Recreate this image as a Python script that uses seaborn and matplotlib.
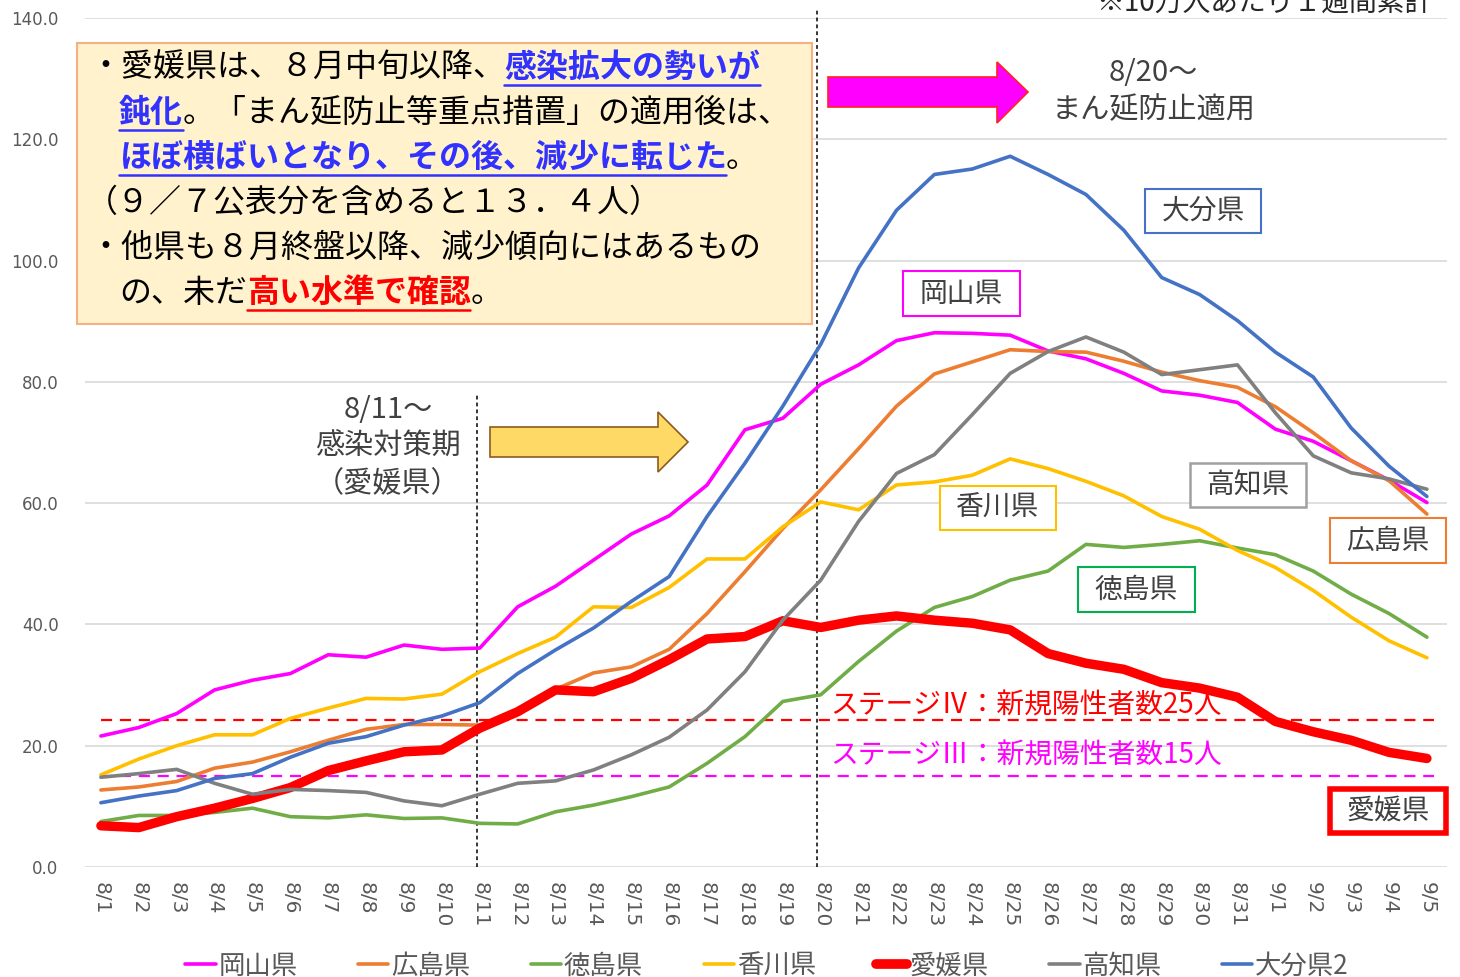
import matplotlib
matplotlib.use("Agg")
import matplotlib.pyplot as plt
import seaborn as sns
import numpy as np
import pandas as pd
from matplotlib.patches import Rectangle, Polygon
from matplotlib.lines import Line2D
from matplotlib.transforms import IdentityTransform

# ---------------- data ----------------
dates = ["8/1", "8/2", "8/3", "8/4", "8/5", "8/6", "8/7", "8/8", "8/9", "8/10",
         "8/11", "8/12", "8/13", "8/14", "8/15", "8/16", "8/17", "8/18", "8/19", "8/20",
         "8/21", "8/22", "8/23", "8/24", "8/25", "8/26", "8/27", "8/28", "8/29", "8/30",
         "8/31", "9/1", "9/2", "9/3", "9/4", "9/5"]

okayama = [21.6, 23.0, 25.3, 29.2, 30.8, 31.9, 35.0, 34.6, 36.6, 35.9, 36.1,
           42.9, 46.3, 50.6, 54.9, 57.9, 63.0, 72.1, 74.0, 79.6,
           82.8, 86.8, 88.1, 88.0, 87.7, 85.1, 83.8, 81.4, 78.5, 77.8, 76.6,
           72.2, 70.2, 67.0, 63.8, 60.1]
hiroshima = [12.7, 13.2, 14.1, 16.3, 17.3, 19.0, 20.9, 22.7, 23.5, 23.5, 23.4,
             25.6, 29.3, 32.0, 33.0, 35.9, 41.8, 48.7, 55.8, 62.2,
             69.0, 76.0, 81.3, 83.3, 85.3, 85.0, 84.9, 83.4, 81.6, 80.2, 79.1,
             75.9, 71.6, 67.0, 63.7, 58.2]
tokushima = [7.5, 8.5, 8.5, 9.0, 9.7, 8.3, 8.1, 8.6, 8.0, 8.1, 7.2,
             7.1, 9.1, 10.2, 11.6, 13.2, 17.1, 21.5, 27.3, 28.4,
             33.9, 38.9, 42.8, 44.6, 47.3, 48.8, 53.2, 52.7, 53.2, 53.8, 52.6,
             51.5, 48.8, 45.0, 41.8, 37.9]
kagawa = [15.2, 17.8, 20.0, 21.8, 21.8, 24.5, 26.2, 27.8, 27.7, 28.5, 32.2,
          35.2, 37.9, 42.9, 42.8, 46.1, 50.8, 50.8, 56.1, 60.2,
          58.9, 63.0, 63.5, 64.6, 67.3, 65.7, 63.6, 61.2, 57.8, 55.7, 52.2,
          49.4, 45.6, 41.2, 37.3, 34.5]
ehime = [6.8, 6.5, 8.3, 9.7, 11.3, 13.1, 15.9, 17.5, 19.0, 19.3, 22.9,
         25.6, 29.2, 28.9, 31.1, 34.2, 37.6, 38.0, 40.6, 39.5,
         40.7, 41.4, 40.7, 40.2, 39.1, 35.2, 33.6, 32.6, 30.4, 29.5, 28.0,
         24.0, 22.3, 20.9, 18.9, 17.9]
kochi = [14.8, 15.4, 16.1, 13.8, 12.0, 12.8, 12.6, 12.3, 10.9, 10.1, 12.0,
         13.8, 14.2, 16.0, 18.5, 21.4, 25.9, 32.2, 40.7, 47.3,
         57.0, 64.9, 68.0, 74.6, 81.4, 85.0, 87.4, 84.9, 81.2, 82.0, 82.8,
         74.9, 67.8, 65.0, 64.0, 62.3]
oita = [10.6, 11.7, 12.6, 14.6, 15.4, 18.1, 20.4, 21.5, 23.4, 24.9, 27.1,
        31.9, 35.8, 39.4, 43.8, 47.9, 57.8, 66.6, 76.0, 86.2,
        98.8, 108.3, 114.2, 115.1, 117.2, 114.2, 110.9, 105.0, 97.2, 94.4, 90.1,
        84.9, 80.8, 72.4, 66.1, 61.1]

series_names = ["岡山県", "広島県", "徳島県", "香川県", "愛媛県", "高知県", "大分県2"]
series_values = [okayama, hiroshima, tokushima, kagawa, ehime, kochi, oita]

stage4_level = 24.2
stage3_level = 15.0
yticks = [0, 20, 40, 60, 80, 100, 120, 140]

# ---------------- style ----------------
colors = ["#FF00FF", "#ED7D31", "#70AD47", "#FFC000", "#FF0000", "#808080", "#4472C4"]
widths = [2.6, 2.6, 2.6, 2.6, 6.8, 2.6, 2.6]

sns.set_theme(style="white")
plt.rcParams['font.family'] = ['Noto Sans CJK JP', 'DejaVu Sans']

W, H = 1460, 977
fig = plt.figure(figsize=(W / 100, H / 100), dpi=100)
ax = fig.add_axes([85 / W, 1 - 867 / H, (1447 - 85) / W, (867 - 18) / H])

x = np.arange(len(dates))
df = pd.DataFrame({"idx": x})
for name, vals in zip(series_names, series_values):
    df[name] = vals

handles = []
for i, (name, c, lw) in enumerate(zip(series_names, colors, widths)):
    sns.lineplot(data=df, x="idx", y=name, ax=ax, color=c, linewidth=lw,
                 legend=False, zorder=3 + i, solid_capstyle="round")
    handles.append(Line2D([0], [0], color=c, lw=lw if lw < 5 else 7))

# stage lines
ax.plot([0, 35.2], [stage4_level, stage4_level], color="#FF0000", lw=1.6,
        linestyle=(0, (5, 3.5)), zorder=2)
ax.plot([0, 35.2], [stage3_level, stage3_level], color="#FF00FF", lw=1.6,
        linestyle=(0, (5, 3.5)), zorder=2)

# vertical dotted lines
ax.plot([9.92, 9.92], [0, 78.2], color="black", lw=1.1, linestyle=(0, (2.5, 2)), zorder=2)
ax.plot([18.9, 18.9], [0, 141.3], color="black", lw=1.1, linestyle=(0, (2.5, 2)),
        zorder=2, clip_on=False)

ax.set_xlim(-0.42, 35.53)
ax.set_ylim(0, 140)
ax.set_xticks(x)
ax.set_xticklabels(dates, rotation=-90, fontsize=14.5, color="#595959",
                   family="DejaVu Sans", va="top", ha="center")
ax.set_yticks(yticks)
ax.set_yticklabels(["%.1f" % v for v in yticks], fontsize=12, color="#595959",
                   family="DejaVu Sans")
ax.tick_params(axis="x", length=0, pad=11)
ax.tick_params(axis="y", length=0, pad=19)
ax.yaxis.grid(True, color="#D9D9D9", lw=1.2)
ax.xaxis.grid(False)
for s in ax.spines.values():
    s.set_visible(False)
ax.set_xlabel("")
ax.set_ylabel("")

# legend
fig.legend(handles, series_names, loc="center", bbox_to_anchor=(767 / W, 1 - 966 / H),
           ncol=7, frameon=False, fontsize=19, handlelength=1.15, handletextpad=0.1,
           columnspacing=2.3, labelcolor="#595959")

# ---------------- annotations (figure pixel coordinates, y from top) ----------------
def fx(px):
    return px / W

def fy(py):
    return 1 - py / H

def rect(x0, y0, x1, y1, fc, ec, lw):
    fig.add_artist(Rectangle((fx(x0), fy(y1)), (x1 - x0) / W, (y1 - y0) / H,
                             transform=fig.transFigure, fc=fc, ec=ec, lw=lw, zorder=5))

def arrow(x0, x_head, x_tip, yb0, yb1, yh0, yh1, fc, ec):
    yc = (yb0 + yb1) / 2
    pts = [(x0, yb0), (x_head, yb0), (x_head, yh0), (x_tip, yc), (x_head, yh1),
           (x_head, yb1), (x0, yb1)]
    fig.add_artist(Polygon([(fx(a), fy(b)) for a, b in pts], closed=True,
                           transform=fig.transFigure, fc=fc, ec=ec, lw=1.2, zorder=5))

# text box
rect(77, 43, 812, 324, "#FFF2CC", "#F4B183", 1.5)

BLUE = "#3232FF"
RED = "#FF0000"
BLK = "#000000"
fs = 23.0
em = fs * 100 / 72.0

def rich_line(x0, yc, segs):
    xc = x0
    for s, col, bold, ul in segs:
        fig.text(xc, H - yc, s, transform=IdentityTransform(), color=col, fontsize=fs,
                 fontweight="bold" if bold else "normal", va="center", ha="left", zorder=6)
        w = len(s) * em
        if ul:
            fig.add_artist(Line2D([xc, xc + w], [H - yc - 17, H - yc - 17],
                                  transform=IdentityTransform(), color=col, lw=1.8, zorder=6))
        xc += w

rich_line(89, 68, [("・愛媛県は、８月中旬以降、", BLK, False, False),
                   ("感染拡大の勢いが", BLUE, True, True)])
rich_line(119, 113, [("鈍化", BLUE, True, True),
                     ("。「まん延防止等重点措置」の適用後は、", BLK, False, False)])
rich_line(119, 158, [("ほぼ横ばいとなり、その後、減少に転じた", BLUE, True, True),
                     ("。", BLK, False, False)])
rich_line(86, 203, [("（９／７公表分を含めると１３．４人）", BLK, False, False)])
rich_line(89, 248, [("・他県も８月終盤以降、減少傾向にはあるもの", BLK, False, False)])
rich_line(119, 293, [("の、未だ", BLK, False, False),
                     ("高い水準で確認", RED, True, True),
                     ("。", BLK, False, False)])

# arrows
arrow(490, 658, 688, 427, 457, 412, 472, "#FFD966", "#8C5A1E")
arrow(828, 997, 1028, 77, 107, 62, 123, "#FF00FF", "#FF2020")

TXT = "#404040"
ann_fs = 21
fig.text(fx(388), fy(410), "8/11～", ha="center", va="center", fontsize=ann_fs, color=TXT)
fig.text(fx(388), fy(447), "感染対策期", ha="center", va="center", fontsize=ann_fs, color=TXT)
fig.text(fx(388), fy(484), "（愛媛県）", ha="center", va="center", fontsize=ann_fs, color=TXT)
fig.text(fx(1153), fy(73), "8/20～", ha="center", va="center", fontsize=ann_fs, color=TXT)
fig.text(fx(1154), fy(110), "まん延防止適用", ha="center", va="center", fontsize=ann_fs, color=TXT)

fig.text(fx(1432), fy(11), "※10万人あたり１週間累計", ha="right", va="baseline",
         fontsize=20, color="#262626")

# stage labels
fig.text(fx(830), fy(706), "ステージⅣ：新規陽性者数25人", ha="left", va="center",
         fontsize=20, color="#FF0000", zorder=6)
fig.text(fx(830), fy(756), "ステージⅢ：新規陽性者数15人", ha="left", va="center",
         fontsize=20, color="#FF00FF", zorder=6)

# prefecture label boxes
boxes = [("大分県", 1145, 189, 1261, 233, "#4472C4", 1.5),
         ("岡山県", 903, 271, 1020, 316, "#FF00FF", 1.5),
         ("香川県", 940, 486, 1056, 530, "#FFC000", 1.5),
         ("高知県", 1190, 463, 1306, 507, "#A0A0A0", 1.8),
         ("広島県", 1330, 518, 1446, 563, "#ED7D31", 1.5),
         ("徳島県", 1078, 567, 1195, 612, "#00B050", 1.5),
         ("愛媛県", 1330, 789, 1446, 833, "#FF0000", 4.0)]
for label, x0, y0, x1, y1, ec, lw in boxes:
    rect(x0, y0, x1, y1, "white", ec, lw)
    fig.text(fx((x0 + x1) / 2), fy((y0 + y1) / 2), label, ha="center", va="center",
             fontsize=20, color=TXT, zorder=7)

fig.savefig("out.png", dpi=100)
